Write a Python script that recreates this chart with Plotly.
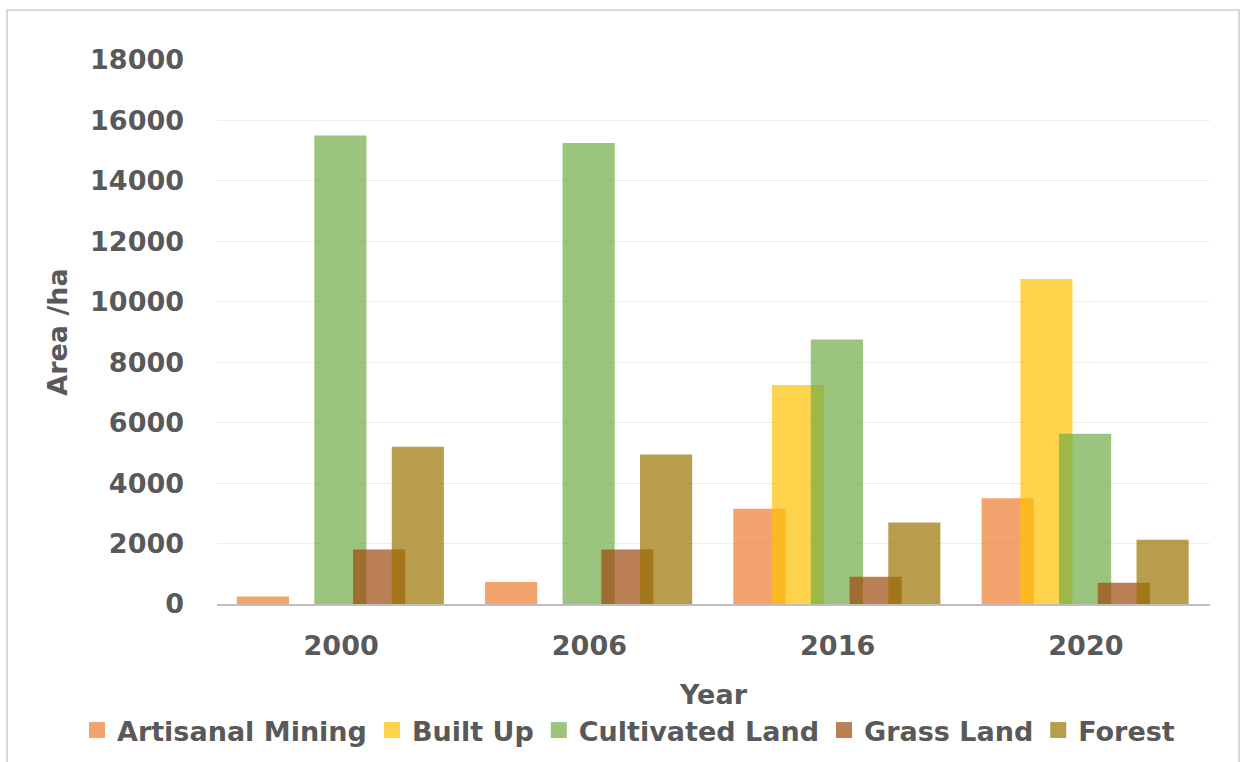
import plotly.graph_objects as go

years = ["2000", "2006", "2016", "2020"]
series_names = ["Artisanal Mining", "Built Up", "Cultivated Land", "Grass Land", "Forest"]
artisanal_mining = [250, 730, 3150, 3500]
built_up = [0, 0, 7250, 10750]
cultivated_land = [15500, 15250, 8750, 5630]
grass_land = [1800, 1800, 900, 700]
forest = [5200, 4950, 2700, 2130]
y_ticks = [0, 2000, 4000, 6000, 8000, 10000, 12000, 14000, 16000, 18000]

series_values = [artisanal_mining, built_up, cultivated_land, grass_land, forest]
colors = ["#ED7D31", "#FFC000", "#70AD47", "#9E480E", "#997300"]
alpha = 0.7

BAR_W = 0.21
START = -0.42
STEP = 0.156

FONT = "DejaVu Sans"
TXT = "#595959"
FS = 27

fig = go.Figure()
for i, (name, vals, col) in enumerate(zip(series_names, series_values, colors)):
    fig.add_trace(go.Bar(
        x=years, y=vals, name=name, width=BAR_W, offset=START + i * STEP,
        marker=dict(color=col, line=dict(width=0)), opacity=alpha,
        showlegend=False,
    ))
for name, col in zip(series_names, colors):
    fig.add_trace(go.Scatter(
        x=[None], y=[None], mode="markers", name=name,
        marker=dict(symbol="square", size=16, color=col, opacity=alpha),
    ))

L, R = 217, 1210
T, B = 60, 604
W, H = 1241, 762
pw, ph = R - L, B - T

def px_x(px):
    return (px - L) / pw

def px_y(py):
    return (B - py) / ph

fig.update_layout(
    width=W, height=H,
    margin=dict(l=L, r=W - R, t=T, b=H - B, autoexpand=False),
    barmode="overlay",
    plot_bgcolor="white", paper_bgcolor="white",
    font=dict(family=FONT, size=FS, color=TXT, weight="bold"),
    xaxis=dict(
        type="category", showgrid=False, showline=True, linecolor="#BFBFBF", linewidth=2,
        ticks="", ticklabelstandoff=17, automargin=False,
        tickfont=dict(family=FONT, size=FS, color=TXT, weight="bold"),
        title=dict(text="Year", standoff=25,
                   font=dict(family=FONT, size=FS, color=TXT, weight="bold")),
    ),
    yaxis=dict(
        range=[0, 18000], tickvals=y_ticks, tickformat="d", showgrid=True,
        gridcolor="#EDEDED", gridwidth=1, automargin=False,
        zeroline=False, showline=False, ticks="", ticklabelstandoff=32,
        tickfont=dict(family=FONT, size=FS, color=TXT, weight="bold"),
        title=dict(text="Area /ha", standoff=14,
                   font=dict(family=FONT, size=FS, color=TXT, weight="bold")),
    ),
    legend=dict(
        orientation="h", xref="paper", x=px_x(77), xanchor="left",
        yref="paper", y=px_y(706), yanchor="top",
        font=dict(family=FONT, size=FS, color=TXT, weight="bold"),
        itemwidth=30, tracegroupgap=0, bgcolor="rgba(0,0,0,0)",
    ),
    shapes=[dict(
        type="rect", xref="paper", yref="paper",
        x0=px_x(7), x1=px_x(1239), y0=px_y(775), y1=px_y(10),
        line=dict(color="#D9D9D9", width=2), fillcolor="rgba(0,0,0,0)", layer="below",
    )],
)

fig.write_html("out.html")
